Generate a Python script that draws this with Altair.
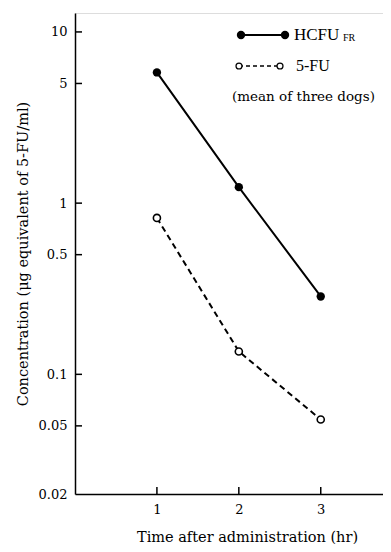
import altair as alt
import pandas as pd

# data
times = [1, 2, 3]
hcfu = [5.8, 1.24, 0.285]
fu = [0.82, 0.136, 0.0545]
y_ticks = [0.02, 0.05, 0.1, 0.5, 1, 5, 10]
y_inner_ticks = [0.05, 0.1, 0.5, 1, 5, 10]
x_ticks = [1, 2, 3]

FONT = "Liberation Serif"
WIDE = "DejaVu Serif"
W, H = 308, 481

df = pd.DataFrame({
    "t": times * 2,
    "c": hcfu + fu,
    "s": ["HCFU"] * 3 + ["5-FU"] * 3,
})
xs = alt.Scale(domain=[0, 3.76], nice=False, zero=False)
ys = alt.Scale(type="log", domain=[0.02, 12.9], nice=False)

xax = alt.Axis(values=x_ticks, ticks=False, grid=False, labelPadding=9, labelFontSize=13,
               labelFont=WIDE, labelColor="black", domainColor="black", domainWidth=1.5,
               format="d",
               title="Time after administration (hr)", titleFont=WIDE, titleFontSize=14.5,
               titleFontWeight="normal", titleX=172, titleY=47, titleBaseline="alphabetic",
               titleAnchor="middle", titleAlign="center")
yax = alt.Axis(values=y_ticks, ticks=False, grid=False, labelPadding=8, labelFontSize=13,
               labelFont=WIDE, labelColor="black", domainColor="black", domainWidth=1.5,
               format="~g",
               title="Concentration (\u03bcg equivalent of 5-FU/ml)", titleFont=WIDE,
               titleFontSize=14.5, titleFontWeight="normal", titlePadding=8)

base = alt.Chart(df)
h = base.transform_filter(alt.datum.s == "HCFU")
f = base.transform_filter(alt.datum.s == "5-FU")

h_line = h.mark_line(color="black", strokeWidth=2).encode(
    x=alt.X("t:Q", scale=xs, axis=xax), y=alt.Y("c:Q", scale=ys, axis=yax))
h_pts = h.mark_point(filled=True, color="black", size=70, opacity=1).encode(
    x=alt.X("t:Q", scale=xs), y=alt.Y("c:Q", scale=ys))
f_line = f.mark_line(color="black", strokeWidth=2, strokeDash=[6, 4]).encode(
    x=alt.X("t:Q", scale=xs), y=alt.Y("c:Q", scale=ys))
f_pts = f.mark_point(filled=True, fill="white", stroke="black", strokeWidth=1.6,
                     size=50, opacity=1).encode(
    x=alt.X("t:Q", scale=xs), y=alt.Y("c:Q", scale=ys))

ytick_rules = alt.Chart(pd.DataFrame({"v": y_inner_ticks})).mark_rule(
    color="black", strokeWidth=1.5).encode(
    y=alt.Y("v:Q", scale=ys), x=alt.value(0), x2=alt.value(7))
xtick_rules = alt.Chart(pd.DataFrame({"v": x_ticks})).mark_rule(
    color="black", strokeWidth=1.5).encode(
    x=alt.X("v:Q", scale=xs), y=alt.value(H), y2=alt.value(H - 7))

one = pd.DataFrame({"a": [0]})
leg = alt.Chart(one)
leg_h_line = leg.mark_rule(color="black", strokeWidth=2).encode(
    x=alt.value(166), x2=alt.value(210), y=alt.value(22))
leg_h_p1 = leg.mark_point(filled=True, color="black", size=70, opacity=1).encode(
    x=alt.value(166), y=alt.value(22))
leg_h_p2 = leg.mark_point(filled=True, color="black", size=70, opacity=1).encode(
    x=alt.value(210), y=alt.value(22))
leg_h_txt = leg.mark_text(text="HCFU", font=FONT, fontSize=17, align="left",
                          baseline="middle", color="black").encode(
    x=alt.value(219), y=alt.value(22))
leg_h_sub = leg.mark_text(text="FR", font=FONT, fontSize=10, align="left",
                          baseline="middle", color="black").encode(
    x=alt.value(268), y=alt.value(25))
leg_f_line = leg.mark_rule(color="black", strokeWidth=1.5, strokeDash=[4, 3]).encode(
    x=alt.value(164), x2=alt.value(205), y=alt.value(53))
leg_f_p1 = leg.mark_point(filled=True, fill="white", stroke="black", strokeWidth=1.3,
                          size=35, opacity=1).encode(x=alt.value(164), y=alt.value(53))
leg_f_p2 = leg.mark_point(filled=True, fill="white", stroke="black", strokeWidth=1.3,
                          size=35, opacity=1).encode(x=alt.value(205), y=alt.value(53))
leg_f_txt = leg.mark_text(text="5-FU", font=FONT, fontSize=16, align="left",
                          baseline="middle", color="black").encode(
    x=alt.value(221), y=alt.value(53))
leg_note = leg.mark_text(text="(mean of three dogs)", font=WIDE, fontSize=13.5, align="left",
                         baseline="middle", color="black").encode(
    x=alt.value(157), y=alt.value(84))

chart = alt.layer(
    h_line, f_line, h_pts, f_pts, ytick_rules, xtick_rules,
    leg_h_line, leg_h_p1, leg_h_p2, leg_h_txt, leg_h_sub,
    leg_f_line, leg_f_p1, leg_f_p2, leg_f_txt, leg_note,
).properties(
    width=W, height=H,
    autosize=alt.AutoSizeParams(type="none"),
    padding={"left": 67, "top": 5, "right": 0, "bottom": 50},
).configure_view(stroke=None).configure(background="white")

chart.save("out.html", embed_options={"renderer": "svg", "actions": False})
